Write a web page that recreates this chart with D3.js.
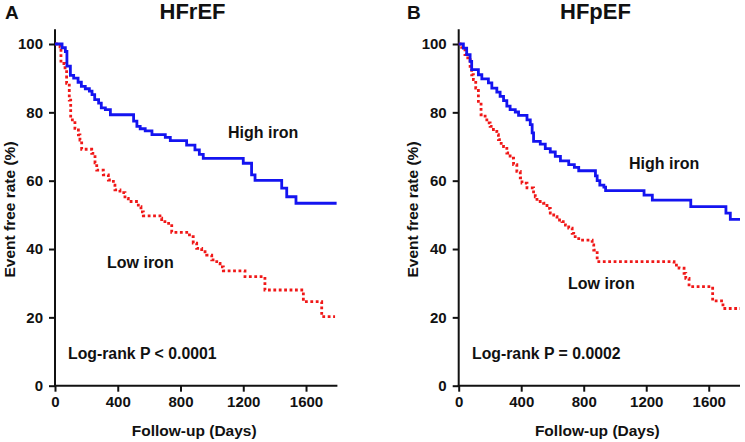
<!DOCTYPE html>
<html><head><meta charset="utf-8">
<script src="https://cdn.jsdelivr.net/npm/d3@7"></script>
<style>
html,body{margin:0;padding:0;background:#fff;}
svg text{font-family:"Liberation Sans",Arial,sans-serif;font-weight:bold;fill:#111;}
</style></head>
<body><svg id="chart" width="745" height="442"></svg>
<script>
// ---- Data (time in days, event-free rate in %) ----
const xTicks = [0, 400, 800, 1200, 1600];
const yTicks = [0, 20, 40, 60, 80, 100];

const hfrefHighT = [0,45,66,76,98,119,147,168,193,219,236,253,278,295,321,353,501,522,543,575,618,703,735,839,892,920,945,1200,1253,1275,1445,1477,1536,1795];
const hfrefHighV = [100,98.9,97.8,93.5,90.8,90,88.8,87.6,86.9,86.2,85.2,83.7,82.7,81.3,80.8,79.3,77.4,75.9,75.2,74.6,73.5,72.7,71.7,70.4,69,67.7,66.5,65.1,61.7,60.1,57.8,55.3,53.4,53.4];

const hfrefLowT = [0,32,38,64,74,91,100,127,149,159,170,234,255,266,308,340,372,382,414,446,467,531,548,563,669,680,712,744,857,881,903,935,967,999,1031,1052,1073,1211,1338,1583,1700,1785];
const hfrefLowV = [100,99.2,94.3,92.4,88.5,83.6,77.8,75.3,73.4,71.9,69.2,68,65.2,63.1,61.7,60.2,58.7,57.3,56.5,54.8,53.9,52.4,50.9,49.7,49,48,47.5,44.9,43.6,41.7,40.2,39.2,38.2,36.8,35.8,34.8,33.6,31.9,28,24.6,20.2,20.2];

const hfpefHighT = [0,30,51,73,83,126,148,190,212,244,265,287,308,329,362,383,437,458,470,479,522,554,586,618,651,704,740,768,875,886,903,929,940,1186,1239,1485,1710,1738,1800];
const hfpefHighV = [100,98.8,96.9,94.9,92.5,91,89.8,88.6,87.1,85.9,84.7,83.4,81.8,80.8,80.1,79.1,77.8,76.4,74,71.5,70.7,69.4,68.4,67.1,65.8,64.7,63.9,62.9,61.4,60,58.7,58.1,57.1,55.8,54.3,52.4,50.5,48.7,48.7];

const hfpefLowT = [0,19,40,58,73,83,94,109,126,143,169,180,201,222,244,254,272,287,308,329,351,372,394,405,437,479,490,501,543,565,586,608,629,661,683,704,726,736,768,854,864,886,1378,1410,1442,1453,1474,1625,1691,1800];
const hfpefLowV = [100,99,96.9,95.4,93,91,89.6,87.1,83.2,79.3,78.3,76.9,75.9,74.4,73.5,72,70.5,70,68.1,66.6,64.7,62.7,60.8,59.3,57.9,56.7,55.3,53.9,53.4,51.9,50.5,49.5,48.5,48,47,46.1,44.6,43.6,42.6,41.2,39.7,36.3,35.3,34.4,32.9,31.4,29,24.8,22.6,22.6];

const panelLetters = ["A", "B"];
const panelTitles = ["HFrEF", "HFpEF"];
const highLabel = "High iron";
const lowLabel = "Low iron";
const pLabels = ["Log-rank P < 0.0001", "Log-rank P = 0.0002"];
const xTitle = "Follow-up (Days)";
const yTitle = "Event free rate (%)";

// ---- Layout ----
const svg = d3.select("#chart");
const panels = [
  {x0:55, x1:337.4, letterX:5, titleX:192.5, yTitleX:14.5,
   high:[228,137.5], low:[107,268], p:[68,358.5],
   hT:hfrefHighT, hV:hfrefHighV, lT:hfrefLowT, lV:hfrefLowV},
  {x0:458.7, x1:740, letterX:407, titleX:595.5, yTitleX:418,
   high:[629,168.5], low:[568,289], p:[472,359],
   hT:hfpefHighT, hV:hfpefHighV, lT:hfpefLowT, lV:hfpefLowV}
];

const yTop = 44, yBot = 385.7;
const font = '"Liberation Sans",Arial,sans-serif';

panels.forEach((p, i) => {
  const x = d3.scaleLinear().domain([0, 1800]).range([p.x0, p.x1]);
  const y = d3.scaleLinear().domain([0, 100]).range([yBot, yTop]);
  const g = svg.append("g");

  // y axis
  const ya = g.append("g").attr("transform", `translate(${p.x0},0)`)
    .call(d3.axisLeft(y).tickValues(yTicks).tickFormat(d3.format("d")).tickSize(6).tickPadding(6));
  ya.select(".domain").remove();
  ya.selectAll(".tick line").attr("stroke", "#111").attr("stroke-width", 2);
  ya.selectAll(".tick text").attr("font-size", 15).attr("fill", "#111")
    .style("font-family", font).style("font-weight", "bold");
  g.append("line").attr("x1", p.x0).attr("x2", p.x0).attr("y1", 29.3).attr("y2", yBot + 1)
    .attr("stroke", "#111").attr("stroke-width", 2);

  // x axis
  const xa = g.append("g").attr("transform", `translate(0,${yBot})`)
    .call(d3.axisBottom(x).tickValues(xTicks).tickFormat(d3.format("d")).tickSize(6).tickPadding(5));
  xa.select(".domain").remove();
  xa.selectAll(".tick line").attr("stroke", "#111").attr("stroke-width", 2);
  xa.selectAll(".tick text").attr("font-size", 15).attr("fill", "#111")
    .style("font-family", font).style("font-weight", "bold");
  g.append("line").attr("x1", p.x0 - 1).attr("x2", p.x1).attr("y1", yBot).attr("y2", yBot)
    .attr("stroke", "#111").attr("stroke-width", 2);

  const line = d3.line().x(d => x(d[0])).y(d => y(d[1])).curve(d3.curveStepAfter);

  // low iron (red dotted)
  g.append("path").datum(d3.zip(p.lT, p.lV)).attr("d", line)
    .attr("fill", "none").attr("stroke", "#f01818").attr("stroke-width", 2.8)
    .attr("stroke-dasharray", "2.8,2.6");
  // high iron (blue solid)
  g.append("path").datum(d3.zip(p.hT, p.hV)).attr("d", line)
    .attr("fill", "none").attr("stroke", "#1414f0").attr("stroke-width", 2.8);

  // texts
  g.append("text").attr("x", p.letterX).attr("y", 18.5).attr("font-size", 19).text(panelLetters[i]);
  g.append("text").attr("x", p.titleX).attr("y", 19).attr("font-size", 22).attr("text-anchor", "middle").text(panelTitles[i]);
  g.append("text").attr("x", p.high[0]).attr("y", p.high[1]).attr("font-size", 16).text(highLabel);
  g.append("text").attr("x", p.low[0]).attr("y", p.low[1]).attr("font-size", 16).text(lowLabel);
  g.append("text").attr("x", p.p[0]).attr("y", p.p[1]).attr("font-size", 15.8).text(pLabels[i]);
  g.append("text").attr("x", (p.x0 + p.x1) / 2 - 2).attr("y", 436).attr("font-size", 15.5)
    .attr("text-anchor", "middle").text(xTitle);
  g.append("text").attr("transform", `translate(${p.yTitleX},${209.5}) rotate(-90)`)
    .attr("font-size", 15.5).attr("text-anchor", "middle").text(yTitle);
});
</script></body></html>
